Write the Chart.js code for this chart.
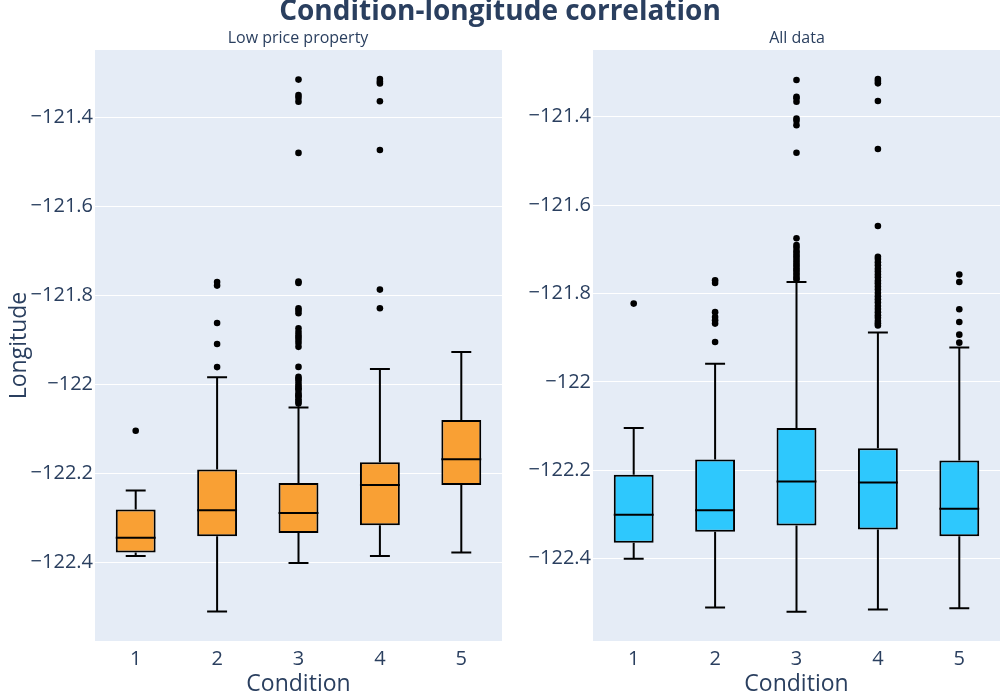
<!DOCTYPE html>
<html><head><meta charset="utf-8">
<script src="https://cdn.jsdelivr.net/npm/chart.js@4"></script>
<style>
html,body{margin:0;padding:0;background:#fff;}
#wrap{position:relative;width:1000px;height:700px;overflow:hidden;font-family:'Open Sans',sans-serif;color:#2a3f5f;}
canvas{position:absolute;top:0;}
.t{position:absolute;white-space:nowrap;text-align:center;}
</style></head><body>
<div id="wrap">
<canvas id="c1" width="502" height="700" style="left:0px"></canvas>
<canvas id="c2" width="498" height="700" style="left:502px"></canvas>
<div class="t" style="left:200px;width:600px;top:-5px;font-size:28px;line-height:28px;font-weight:bold;">Condition-longitude correlation</div>
<div class="t" style="left:148px;width:300px;top:29px;font-size:16px;line-height:16px;">Low price property</div>
<div class="t" style="left:647px;width:300px;top:29px;font-size:16px;line-height:16px;">All data</div>
</div>
<script>
const categories = ['1','2','3','4','5'];
const yTicks = [-122.4, -122.2, -122, -121.8, -121.6, -121.4];

// Low price property
const lowLower  = [-122.385, -122.510, -122.401, -122.385, -122.3775];
const lowQ1     = [-122.3775, -122.341, -122.3335, -122.316, -122.2256];
const lowMedian = [-122.344, -122.2825, -122.2885, -122.2256, -122.168];
const lowQ3     = [-122.281, -122.191, -122.221, -122.1746, -122.080];
const lowUpper  = [-122.238, -121.9836, -122.0517, -121.965, -121.927];
const lowOutliers = [
  [-122.104],
  [-121.770, -121.778, -121.862, -121.909, -121.961],
  [-121.3155, -121.350, -121.356, -121.365, -121.480, -121.769, -121.772, -121.829, -121.834, -121.840,
   -121.874, -121.882, -121.889, -121.894, -121.900, -121.907, -121.9155, -121.9605, -121.983, -121.987,
   -121.992, -121.999, -122.004, -122.009, -122.012, -122.019, -122.024, -122.027, -122.033, -122.038, -122.043],
  [-121.314, -121.320, -121.324, -121.364, -121.4735, -121.787, -121.829],
  []
];

// All data
const allLower  = [-122.400, -122.510, -122.520, -122.515, -122.512];
const allQ1     = [-122.364, -122.339, -122.3248, -122.334, -122.349];
const allMedian = [-122.3006, -122.290, -122.225, -122.2274, -122.287];
const allQ3     = [-122.210, -122.1753, -122.1044, -122.150, -122.1776];
const allUpper  = [-122.1044, -121.9586, -121.7737, -121.888, -121.9223];
const allOutliers = [
  [-121.8227],
  [-121.770, -121.776, -121.842, -121.853, -121.8605, -121.868, -121.9096],
  [-121.317, -121.355, -121.358, -121.366, -121.404, -121.409, -121.419, -121.4815, -121.675, -121.690,
   -121.696, -121.703, -121.708, -121.714, -121.719, -121.725, -121.731, -121.736, -121.742, -121.747,
   -121.753, -121.758, -121.764, -121.768],
  [-121.3146, -121.319, -121.3245, -121.3644, -121.473, -121.647, -121.717, -121.722, -121.729, -121.736,
   -121.744, -121.750, -121.757, -121.763, -121.771, -121.777, -121.784, -121.791, -121.799, -121.806,
   -121.813, -121.820, -121.828, -121.835, -121.842, -121.849, -121.855, -121.862, -121.867, -121.872],
  [-121.757, -121.7737, -121.8356, -121.8643, -121.893, -121.911]
];

const textColor = '#2a3f5f';
Chart.defaults.font.family = "'Open Sans', sans-serif";

function fmt(v){ return String(Math.round(v*10)/10).replace('-', '\u2212'); }

function boxPlugin(st){
  return {
    id: 'boxWhiskers',
    beforeDraw(chart){
      const a = chart.chartArea, ctx = chart.ctx;
      ctx.save(); ctx.fillStyle = '#e5ecf6';
      ctx.fillRect(a.left, a.top, a.right - a.left, a.bottom - a.top);
      ctx.restore();
    },
    beforeDatasetsDraw(chart){
      const meta = chart.getDatasetMeta(0), y = chart.scales.y, ctx = chart.ctx;
      ctx.save(); ctx.strokeStyle = '#000'; ctx.lineWidth = 2;
      meta.data.forEach((bar, i) => {
        const x = bar.x, h = bar.width / 4;
        const yl = y.getPixelForValue(st.lower[i]), y1 = y.getPixelForValue(st.q1[i]);
        const y3 = y.getPixelForValue(st.q3[i]), yu = y.getPixelForValue(st.upper[i]);
        ctx.beginPath();
        ctx.moveTo(x, yl); ctx.lineTo(x, y1);
        ctx.moveTo(x, y3); ctx.lineTo(x, yu);
        ctx.moveTo(x - h, yl); ctx.lineTo(x + h, yl);
        ctx.moveTo(x - h, yu); ctx.lineTo(x + h, yu);
        ctx.stroke();
      });
      ctx.restore();
    },
    afterDatasetDraw(chart, args){
      if (args.index !== 0) return;
      const meta = chart.getDatasetMeta(0), y = chart.scales.y, ctx = chart.ctx;
      ctx.save(); ctx.strokeStyle = '#000'; ctx.lineWidth = 2;
      meta.data.forEach((bar, i) => {
        const ym = y.getPixelForValue(st.median[i]), h = bar.width / 2;
        ctx.beginPath(); ctx.moveTo(bar.x - h, ym); ctx.lineTo(bar.x + h, ym); ctx.stroke();
      });
      ctx.restore();
    }
  };
}

function makeChart(id, st, color, yMin, yMax, yWidth, showYTitle){
  const pts = [];
  st.outliers.forEach((arr, i) => arr.forEach(v => pts.push({x: categories[i], y: v})));
  return new Chart(document.getElementById(id), {
    type: 'bar',
    data: {
      labels: categories,
      datasets: [
        { type: 'bar', data: st.q1.map((v, i) => [v, st.q3[i]]), backgroundColor: color,
          borderColor: '#000', borderWidth: 2, borderSkipped: false,
          barPercentage: 0.49, categoryPercentage: 1 },
        { type: 'scatter', data: pts, backgroundColor: '#000', borderWidth: 0,
          pointRadius: 3.3, pointHoverRadius: 3.3 }
      ]
    },
    options: {
      responsive: false, animation: false, devicePixelRatio: 1,
      layout: { autoPadding: false, padding: { top: 50, left: 0, right: 0, bottom: 0 } },
      plugins: { legend: { display: false }, tooltip: { enabled: false } },
      scales: {
        x: {
          type: 'category', offset: true,
          grid: { display: false }, border: { display: false },
          ticks: { color: textColor, font: { size: 20 }, padding: -2 },
          title: { display: true, text: 'Condition', color: textColor, font: { size: 23 }, padding: { top: 0, bottom: 2 } },
          afterFit(s){ s.height = 59; s.paddingLeft = 0; s.paddingRight = 0; }
        },
        y: {
          type: 'linear', min: yMin, max: yMax,
          afterBuildTicks(axis){ axis.ticks = yTicks.map(v => ({ value: v })); },
          grid: { color: '#ffffff', lineWidth: 1, drawTicks: false },
          border: { display: false },
          ticks: { color: textColor, font: { size: 20 }, padding: 2, callback: v => fmt(v) },
          title: { display: showYTitle, text: 'Longitude', color: textColor, font: { size: 23 }, padding: { top: 6, bottom: 0 } },
          afterFit(s){ s.width = yWidth; s.paddingTop = 0; s.paddingBottom = 0; }
        }
      }
    },
    plugins: [boxPlugin(st)]
  });
}

makeChart('c1', { lower: lowLower, q1: lowQ1, median: lowMedian, q3: lowQ3, upper: lowUpper, outliers: lowOutliers },
  '#f9a034', -122.576, -121.249, 95, true);
makeChart('c2', { lower: allLower, q1: allQ1, median: allMedian, q3: allQ3, upper: allUpper, outliers: allOutliers },
  '#2ec8fd', -122.586, -121.249, 91, false);
</script>
</body></html>
